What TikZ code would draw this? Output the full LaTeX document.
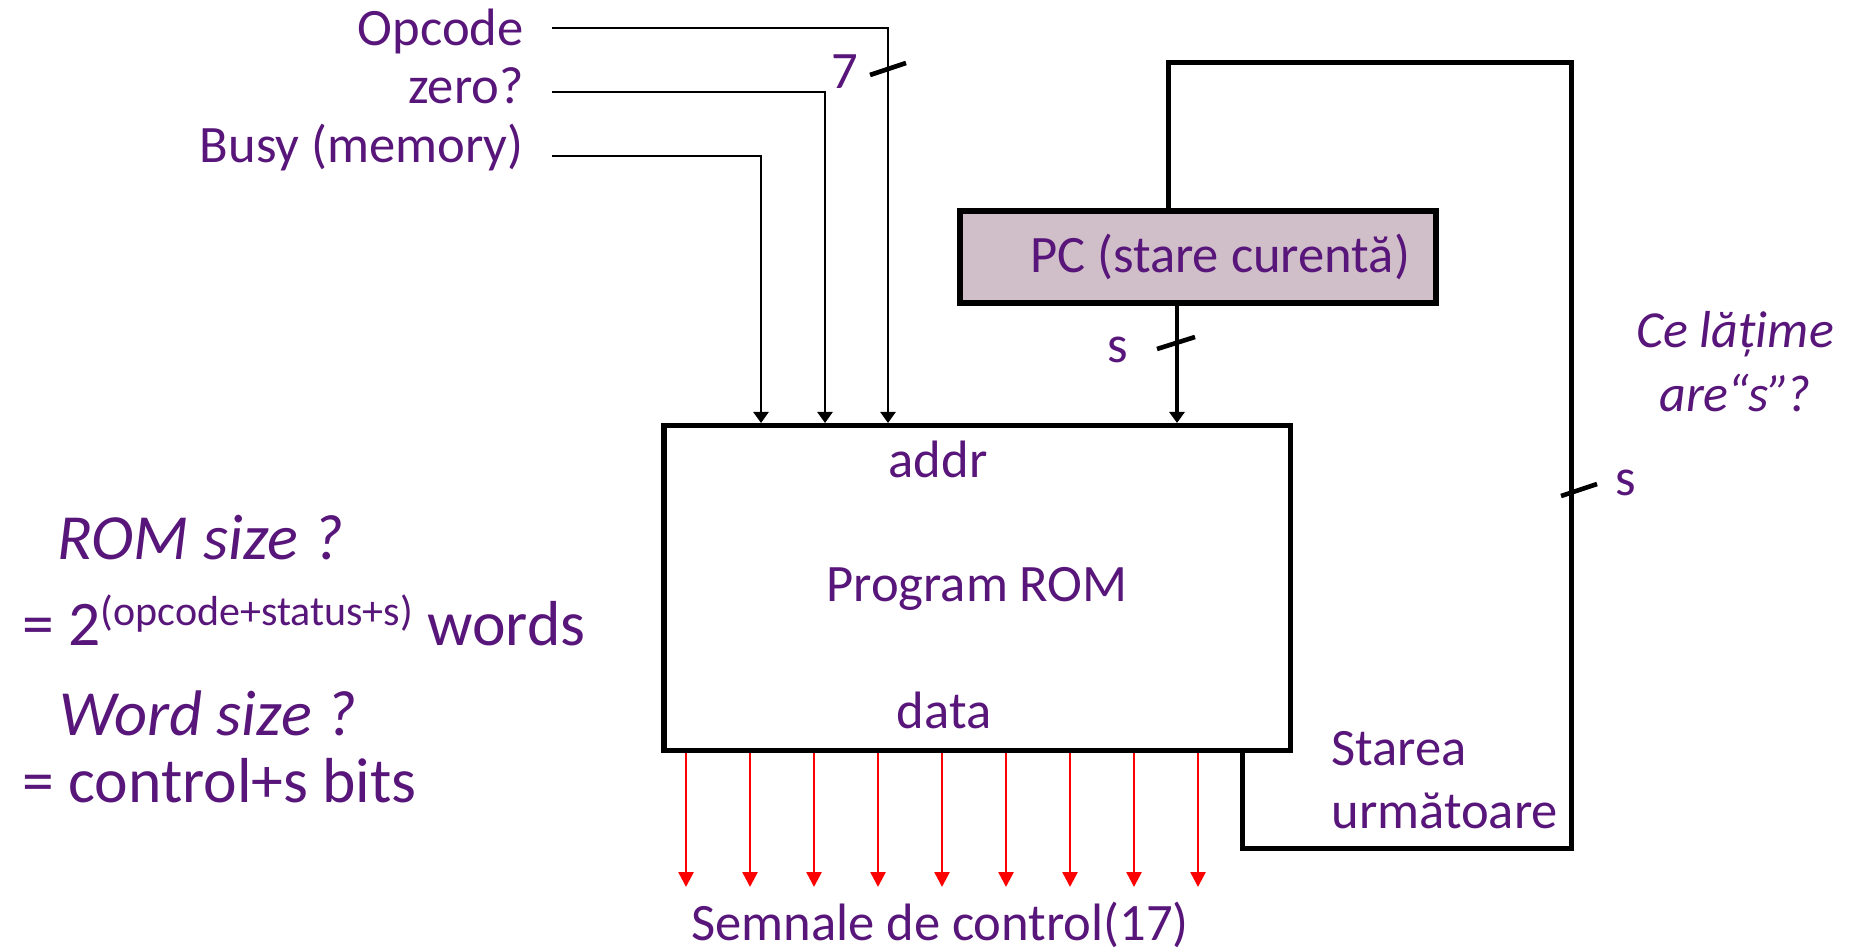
\documentclass[tikz,border=0pt]{standalone}
\usepackage{fontspec}
\setmainfont{Carlito}
\usetikzlibrary{arrows.meta}
\definecolor{ink}{RGB}{88,22,122}
\definecolor{pcfill}{RGB}{208,190,200}

\begin{document}
\begin{tikzpicture}[x=0.5pt,y=-0.5pt,
  lbl/.style={text=ink,font=\fontsize{26.3}{30}\selectfont,inner sep=0pt},
  qlbl/.style={text=ink,font=\fontsize{26}{30}\selectfont\itshape,inner sep=0pt},
  big/.style={text=ink,font=\fontsize{31.8}{36}\selectfont,inner sep=0pt},
  bigit/.style={text=ink,font=\fontsize{32.2}{36}\selectfont\itshape,inner sep=0pt},
  sig/.style={line width=1.2pt,-{Triangle[length=5.5pt,width=7.5pt]}},
  bus/.style={line width=2.4pt,-{Triangle[length=5.5pt,width=7.5pt]}},
  wire/.style={line width=2.5pt,line join=miter},
  ctl/.style={red,line width=1.3pt,-{Triangle[length=7.5pt,width=7.5pt]}},
  tick/.style={line width=2.3pt},
]
\useasboundingbox (0,0) rectangle (1850,951);

% Program ROM block
\node[draw,line width=2.75pt,minimum width=313.25pt,minimum height=162.25pt,inner sep=0pt] (rom) at (977,588) {};
\node[lbl,anchor=base] (addr) at (938,477) {addr};
\node[lbl,anchor=base] (prog) at (977,601) {Program ROM};
\node[lbl,anchor=base] (data) at (944,728) {data};

% state register
\node[draw,line width=3pt,fill=pcfill,minimum width=238pt,minimum height=46pt,inner sep=0pt,text=ink,font=\fontsize{26.3}{30}\selectfont] (pc) at (1198,257) {\hspace*{22pt}PC (stare curentă)};

% input signals
\node[lbl,anchor=base east] (op) at (524,46) {Opcode};
\node[lbl,anchor=base east] (zr) at (524,104) {zero?};
\node[lbl,anchor=base east] (bs) at (524,163) {Busy (memory)};
\coordinate (opin) at (552,28);
\coordinate (zrin) at (552,92);
\coordinate (bsin) at (552,156);
\coordinate (opx) at (888,0);
\coordinate (zrx) at (825,0);
\coordinate (bsx) at (761,0);
\draw[sig] (opin) -| (opx |- rom.north);
\draw[sig] (zrin) -| (zrx |- rom.north);
\draw[sig] (bsin) -| (bsx |- rom.north);
\draw[tick] (888,69) ++(-18,6) -- ++(36,-12);
\node[lbl,anchor=base] (seven) at (845,89) {7};

% current state into the address
\coordinate (pcx) at (1177,0);
\draw[bus] (pcx |- pc.south) -- (pcx |- rom.north);
\draw[tick] (1176,343) ++(-19,6) -- ++(38,-12);
\node[lbl,anchor=base] (s1) at (1118,363) {s};

% next state fed back to the register
\coordinate (nsx) at (1242,0);
\coordinate (loopR) at (1571,848);
\coordinate (loopTop) at (1168,63);
\draw[wire] (nsx |- rom.south) |- (loopR) |- (loopTop) -- (loopTop |- pc.north);
\draw[tick] (1579,490) ++(-18,6) -- ++(36,-12);
\node[lbl,anchor=base] (s2) at (1626,495) {s};
\node[lbl,anchor=base west] (ns1) at (1331,765) {Starea};
\node[lbl,anchor=base west] (ns2) at (1331,828) {următoare};

% control outputs
\foreach \i in {0,...,8} {
  \coordinate (c\i) at ({686+64*\i},887);
  \draw[ctl] (c\i |- rom.south) -- (c\i);
}
\node[lbl,anchor=base] (sem) at (940,940) {Semnale de control(17)};

% questions
\node[qlbl,anchor=base] (q1) at (1735,348) {Ce lățime};
\node[qlbl,anchor=base] (q2) at (1735,412) {are“s”\kern-2pt?};

\node[bigit,anchor=base west] (romq) at (57,559) {ROM size ?};
\node[big,anchor=base west] (roma) at (22,645) {= 2\raisebox{10pt}{\fontsize{21}{24}\selectfont(opcode+status+s)} words};
\node[bigit,anchor=base west] (wq) at (59,735) {Word size ?};
\node[big,anchor=base west] (wa) at (22,802) {= control+s bits};
\end{tikzpicture}
\end{document}
